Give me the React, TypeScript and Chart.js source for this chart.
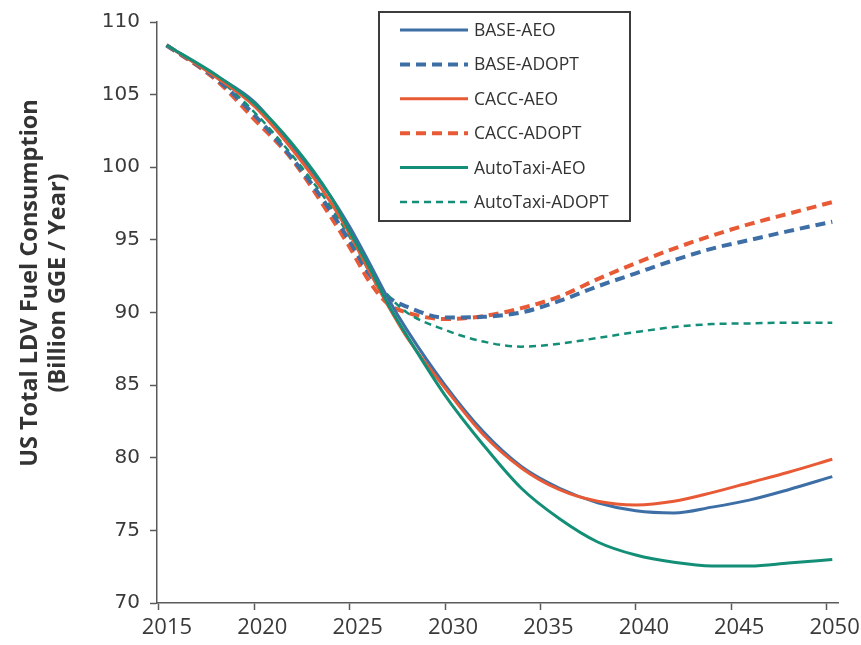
import React, { useEffect, useRef } from "react";
import { Chart, registerables } from "chart.js";

Chart.register(...registerables);

const years = [2015.4, 2018, 2020, 2022, 2024, 2025, 2026, 2027, 2028, 2030, 2032, 2034, 2036, 2038, 2040, 2042, 2044, 2046, 2048, 2050.3];

const baseAeo = [108.4, 106.3, 104.5, 101.4, 98.0, 95.9, 93.5, 91.0, 88.8, 85.0, 81.8, 79.4, 77.9, 76.9, 76.35, 76.2, 76.6, 77.1, 77.8, 78.7];
const baseAdopt = [108.4, 106.1, 103.6, 100.6, 97.0, 94.9, 92.7, 91.1, 90.4, 89.65, 89.7, 90.0, 90.8, 91.8, 92.7, 93.6, 94.4, 95.0, 95.6, 96.25];
const caccAeo = [108.4, 106.2, 104.2, 101.2, 97.6, 95.4, 92.9, 90.5, 88.3, 84.8, 81.6, 79.3, 77.8, 77.0, 76.75, 77.0, 77.6, 78.3, 79.0, 79.9];
const caccAdopt = [108.4, 106.0, 103.3, 100.5, 96.6, 94.5, 92.2, 90.6, 90.0, 89.55, 89.75, 90.3, 91.1, 92.3, 93.4, 94.4, 95.3, 96.1, 96.8, 97.6];
const taxiAeo = [108.4, 106.35, 104.4, 101.6, 98.0, 95.6, 93.2, 90.6, 88.4, 84.3, 80.9, 77.9, 75.8, 74.2, 73.3, 72.8, 72.55, 72.55, 72.75, 73.0];
const taxiAdopt = [108.4, 106.2, 103.8, 100.8, 97.3, 95.2, 92.9, 91.2, 90.0, 88.8, 88.0, 87.65, 87.85, 88.25, 88.65, 89.0, 89.2, 89.25, 89.3, 89.3];

const xTicks = [2015, 2020, 2025, 2030, 2035, 2040, 2045, 2050];
const yTicks = [70, 75, 80, 85, 90, 95, 100, 105, 110];

const yTitle = ["US Total LDV Fuel Consumption", "(Billion GGE / Year)"];

const BLUE = "#3d6fa6";
const RED = "#e85a35";
const GREEN = "#148f77";

const toPts = (vals: number[]) => vals.map((v, i) => ({ x: years[i], y: v }));

const legendPlugin = {
  id: "boxLegend",
  afterDraw(chart: any) {
    const ctx = chart.ctx;
    const left = 379, top = 12, w = 251, h = 209;
    ctx.save();
    ctx.fillStyle = "#ffffff";
    ctx.fillRect(left, top, w, h);
    ctx.strokeStyle = "#3c3c3c";
    ctx.lineWidth = 2;
    ctx.strokeRect(left, top, w, h);
    ctx.font = "17.5px 'Open Sans'";
    ctx.textBaseline = "middle";
    ctx.textAlign = "left";
    chart.data.datasets.forEach((ds: any, i: number) => {
      const y = 30 + i * 34.4;
      ctx.beginPath();
      ctx.strokeStyle = ds.borderColor;
      ctx.lineWidth = ds.borderWidth;
      ctx.setLineDash(ds.borderDash || []);
      ctx.moveTo(400, y);
      ctx.lineTo(468, y);
      ctx.stroke();
      ctx.setLineDash([]);
      ctx.fillStyle = "#333333";
      ctx.fillText(ds.label, 474, y + 1);
    });
    ctx.restore();
  },
};

const titlePlugin = {
  id: "yTitle",
  afterDraw(chart: any) {
    const ctx = chart.ctx;
    ctx.save();
    ctx.fillStyle = "#333333";
    ctx.font = "bold 23.5px 'Open Sans'";
    ctx.textAlign = "center";
    ctx.textBaseline = "middle";
    const xs = [30, 58];
    yTitle.forEach((t, i) => {
      ctx.save();
      ctx.translate(xs[i], 283);
      ctx.rotate(-Math.PI / 2);
      ctx.fillText(t, 0, 0);
      ctx.restore();
    });
    ctx.restore();
  },
};

export default function App() {
  const ref = useRef<HTMLCanvasElement>(null);
  useEffect(() => {
    if (!ref.current) return;
    const mk = (label: string, vals: number[], color: string, width: number, dash: number[] | undefined, order: number) => ({
      label,
      data: toPts(vals),
      borderColor: color,
      backgroundColor: color,
      borderWidth: width,
      borderDash: dash,
      pointRadius: 0,
      fill: false,
      cubicInterpolationMode: "monotone" as const,
      order,
    });
    const chart = new Chart(ref.current, {
      type: "line",
      data: {
        datasets: [
          mk("BASE-AEO", baseAeo, BLUE, 3, undefined, 2),
          mk("BASE-ADOPT", baseAdopt, BLUE, 4, [10, 6], 4),
          mk("CACC-AEO", caccAeo, RED, 3, undefined, 1),
          mk("CACC-ADOPT", caccAdopt, RED, 4, [10, 6], 5),
          mk("AutoTaxi-AEO", taxiAeo, GREEN, 3, undefined, 0),
          mk("AutoTaxi-ADOPT", taxiAdopt, GREEN, 2.5, [7, 5], 3),
        ],
      },
      options: {
        responsive: false,
        animation: false,
        layout: { padding: { left: 0, top: 22, right: 23, bottom: 0 } },
        plugins: { legend: { display: false }, tooltip: { enabled: false } },
        scales: {
          x: {
            type: "linear",
            min: 2014.9,
            max: 2050.6,
            afterBuildTicks: (s: any) => {
              s.ticks = xTicks.map((v) => ({ value: v }));
            },
            afterFit: (s: any) => {
              s.height = 42;
            },
            grid: { drawOnChartArea: false, drawTicks: true, tickLength: 7, tickWidth: 1.5, color: "#5a5a5a" },
            border: { display: true, color: "#5a5a5a", width: 1.5 },
            ticks: {
              padding: 5,
              labelOffset: 8,
              color: "#3a3a3a",
              font: { family: "'Open Sans'", size: 22 },
              callback: (v: any) => String(v),
              maxRotation: 0,
              autoSkip: false,
            },
          },
          y: {
            type: "linear",
            min: 70,
            max: 110,
            afterBuildTicks: (s: any) => {
              s.ticks = yTicks.map((v) => ({ value: v }));
            },
            afterFit: (s: any) => {
              s.width = 157;
            },
            grid: { drawOnChartArea: false, drawTicks: true, tickLength: 7, tickWidth: 1.5, color: "#5a5a5a" },
            border: { display: true, color: "#5a5a5a", width: 1.5 },
            ticks: {
              padding: 10,
              color: "#3a3a3a",
              font: { family: "'DejaVu Sans'", size: 20 },
              callback: (v: any) => String(v),
            },
          },
        },
      },
      plugins: [titlePlugin, legendPlugin],
    });
    return () => chart.destroy();
  }, []);
  return (
    <div style={{ position: "fixed", left: 0, top: 0, width: 861, height: 645, background: "#fff" }}>
      <canvas ref={ref} width={861} height={645} style={{ width: 861, height: 645 }} />
    </div>
  );
}
